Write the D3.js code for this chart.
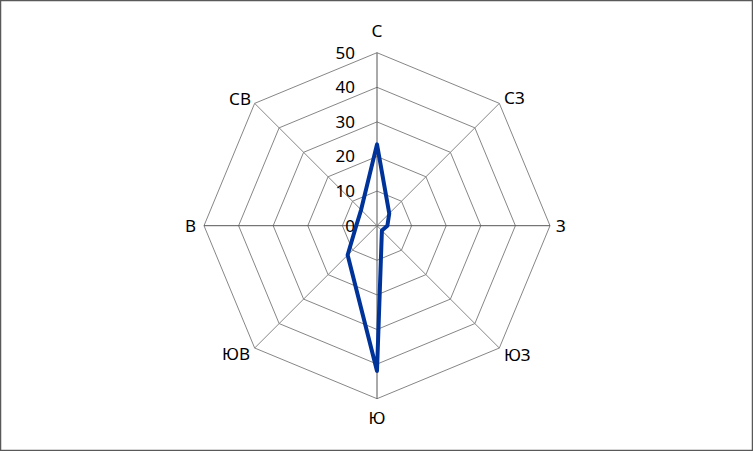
<!DOCTYPE html>
<html>
<head>
<meta charset="utf-8">
<script src="https://cdn.jsdelivr.net/npm/d3@7"></script>
<style>
    body { margin: 0; background: #fff; }
    svg text { font-family: 'Noto Sans', 'Open Sans', sans-serif; fill: #000; }
</style>
</head>
<body>
<svg id="chart"></svg>
<script>
// directions, clockwise from top
const directions = ['С', 'СЗ', 'З', 'ЮЗ', 'Ю', 'ЮВ', 'В', 'СВ']
const values = [23.5, 5, 3, 2, 42, 12, 6, 6.5]
const ticks = [0, 10, 20, 30, 40, 50]

const width = 753
const height = 451
const cx = 377
const cy = 225.7

const svg = d3.select('#chart')
    .attr('width', width)
    .attr('height', height)

svg.append('rect')
    .attr('x', 0.5)
    .attr('y', 0.5)
    .attr('width', width - 1)
    .attr('height', height - 1)
    .attr('fill', '#fff')
    .attr('stroke', '#595959')
    .attr('stroke-width', 1.5)

const chart = svg.append('g')
    .attr('transform', `translate(${cx},${cy})`)

const rScale = d3.scaleLinear()
    .domain([0, 50])
    .range([0, 173])

const step = 2 * Math.PI / directions.length
const angleOf = (d, i) => i * step

const pt = (a, r) => [r * Math.sin(a), -r * Math.cos(a)]

// grid octagons
const gridLine = d3.lineRadial()
    .angle((d, i) => angleOf(d, i))
    .radius(d => rScale(d))
    .curve(d3.curveLinearClosed)

chart.selectAll('.grid')
    .data(ticks.slice(1))
    .join('path')
    .attr('class', 'grid')
    .attr('d', t => gridLine(directions.map(() => t)))
    .attr('fill', 'none')
    .attr('stroke', '#868686')
    .attr('stroke-width', 1)

// spokes
chart.selectAll('.spoke')
    .data(directions)
    .join('line')
    .attr('class', 'spoke')
    .attr('x1', 0)
    .attr('y1', 0)
    .attr('x2', (d, i) => pt(angleOf(d, i), rScale(50))[0])
    .attr('y2', (d, i) => pt(angleOf(d, i), rScale(50))[1])
    .attr('stroke', (d, i) => i % 2 === 0 ? '#555' : '#868686')
    .attr('stroke-width', 1)

// tick labels
chart.selectAll('.tick-label')
    .data(ticks)
    .join('text')
    .attr('class', 'tick-label')
    .attr('x', -22)
    .attr('y', d => -rScale(d))
    .attr('dy', '0.35em')
    .attr('text-anchor', 'end')
    .style('font-size', '17px')
    .text(d => d)

// direction labels
const labelPos = [
    { dx: 0, dy: -195, anchor: 'middle' },
    { dx: 127, dy: -127.5, anchor: 'start' },
    { dx: 179, dy: 0, anchor: 'start' },
    { dx: 127, dy: 129, anchor: 'start' },
    { dx: 0, dy: 192, anchor: 'middle' },
    { dx: -127, dy: 128, anchor: 'end' },
    { dx: -181, dy: 0, anchor: 'end' },
    { dx: -126, dy: -127, anchor: 'end' }
]

chart.selectAll('.dir-label')
    .data(directions)
    .join('text')
    .attr('class', 'dir-label')
    .attr('x', (d, i) => labelPos[i].dx)
    .attr('y', (d, i) => labelPos[i].dy)
    .attr('dy', '0.35em')
    .attr('text-anchor', (d, i) => labelPos[i].anchor)
    .style('font-size', '17px')
    .text(d => d)

// data line
const dataLine = d3.lineRadial()
    .angle((d, i) => angleOf(d, i))
    .radius(d => rScale(d))
    .curve(d3.curveLinearClosed)

chart.append('path')
    .datum(values)
    .attr('d', dataLine)
    .attr('fill', 'none')
    .attr('stroke', '#003399')
    .attr('stroke-width', 4)
    .attr('stroke-linejoin', 'round')
</script>
</body>
</html>
